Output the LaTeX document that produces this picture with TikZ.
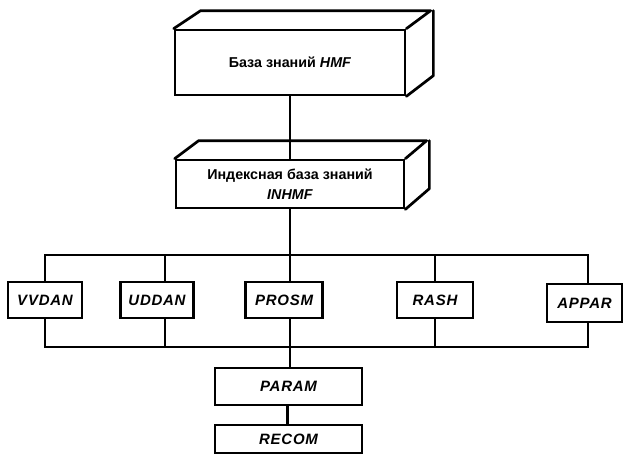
\documentclass[tikz,border=0pt]{standalone}
\usepackage{fontspec}
\setmainfont{Liberation Sans}
\begin{document}
\begin{tikzpicture}[x=1pt,y=-1pt,line width=2.7pt,
  box/.style={draw,rectangle,inner sep=0pt,font=\bfseries\itshape\fontsize{15}{17}\selectfont\addfontfeature{LetterSpace=5}},
  kbbox/.style={draw,rectangle,inner sep=0pt,align=center,font=\bfseries\fontsize{14.3}{20}\selectfont},
  depth/.style={line join=round,line cap=round}]
\useasboundingbox (0,0) rectangle (623,464);
% top knowledge base
\node[kbbox,minimum width=230pt,minimum height=65pt] (kb) at (290,62.5) {База знаний \textit{HMF}};
\draw[depth] (kb.north west) -- ++(27,-18) -- ++(230,0) -- (kb.north east)
  (kb.north east) ++(27,-18) -- ++(0,65) -- (kb.south east);
% index knowledge base
\node[kbbox,minimum width=228pt,minimum height=48pt] (ikb) at (290,184) {Индексная база знаний\\\textit{INHMF}};
\draw[depth] (ikb.north west) -- ++(24,-18) -- ++(228,0) -- (ikb.north east)
  (ikb.north east) ++(24,-18) -- ++(0,48) -- (ikb.south east);
% row boxes
\node[box,minimum width=74pt,minimum height=36pt] (vv) at (45,300) {VVDAN};
\node[box,minimum width=73pt,minimum height=36pt] (ud) at (157,300) {UDDAN};
\node[box,minimum width=77pt,minimum height=36pt] (pr) at (284,300) {PROSM};
\node[box,minimum width=76pt,minimum height=36pt] (ra) at (435,300) {RASH};
\node[box,minimum width=75pt,minimum height=38pt] (ap) at (584.5,303) {APPAR};
\node[box,minimum width=147pt,minimum height=37pt] (pa) at (288.5,386.5) {PARAM};
\node[box,minimum width=147pt,minimum height=28pt] (re) at (288.5,439) {RECOM};
\coordinate (tr) at (588,255);
\coordinate (br) at (588,347);
% connectors
\draw (kb.south) -- (ikb.north);
\draw (ikb.south) -- ([xshift=6pt]pr.north);
\draw (vv.north) |- (tr) -- ([xshift=3.5pt]ap.north);
\draw (vv.south) |- (br) -- ([xshift=3.5pt]ap.south);
\draw ([xshift=8pt]ud.north) -- ([xshift=8pt]ud.north |- tr);
\draw ([xshift=8pt]ud.south) -- ([xshift=8pt]ud.south |- br);
\draw (ra.north) -- (ra.north |- tr);
\draw (ra.south) -- (ra.south |- br);
\draw ([xshift=6pt]pr.south) -- ([xshift=1.5pt]pa.north);
\draw ([xshift=-1pt]pa.south) -- ([xshift=-1pt]re.north);
\end{tikzpicture}
\end{document}
